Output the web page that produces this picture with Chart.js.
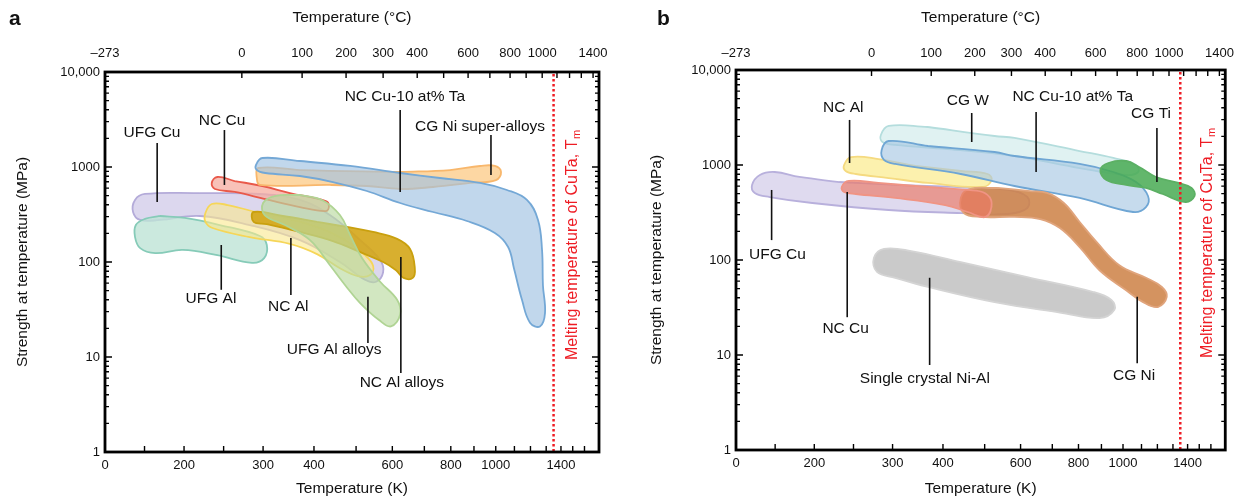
<!DOCTYPE html>
<html lang="en">
<head>
<meta charset="UTF-8">
<title>Strength at temperature</title>
<script src="https://cdn.jsdelivr.net/npm/chart.js@4.4.0/dist/chart.umd.min.js"></script>
<style>
  body { margin: 0; background: #fff; }
  canvas { position: absolute; top: 0; }
  #panelA { left: 0; }
  #panelB { left: 621px; }
</style>
</head>
<body>
<canvas id="panelA" width="621" height="498"></canvas>
<canvas id="panelB" width="622" height="498"></canvas>
<script>
// ---- axes ----
var kTicks = [0, 200, 300, 400, 600, 800, 1000, 1400];          // bottom, K
var cTicks = [-273, 0, 100, 200, 300, 400, 600, 800, 1000, 1400]; // top, deg C
var strengthTicks = [1, 10, 100, 1000, 10000];                  // MPa
var meltK = 1350;

// ---- panel a bands, outline points [K, MPa] ----
var aUfgCu = [[220,532],[296,520],[369,450],[436,312],[511,170],[565,105],[573,78],[554,62],[524,65],[459,100],[369,170],[283,245],[220,305],[139,277],[89,277],[71,336],[76,450],[101,520]];
var aUfgAl = [[139,305],[201,291],[245,245],[296,188],[307,151],[302,110],[286,98],[242,118],[197,134],[127,124],[89,140],[76,183],[78,245],[101,284]];
var aNcCu = [[264,712],[299,631],[350,532],[427,438],[434,388],[427,344],[369,379],[304,460],[264,546],[239,587],[235,679],[242,785]];
var aNiSuper = [[623,886],[797,929],[928,1025],[996,1025],[1027,886],[1001,729],[882,679],[733,616],[623,587],[529,631],[436,647],[296,647],[292,766],[294,976],[369,929]];
var aCuTa = [[369,1156],[484,1025],[623,865],[759,766],[928,679],[1057,573],[1178,450],[1247,277],[1272,134],[1278,57],[1292,29],[1259,21],[1197,23],[1147,40],[1097,86],[1063,144],[996,202],[868,270],[733,336],[623,418],[529,559],[443,695],[369,804],[304,865],[292,929],[291,1050],[299,1244]];
var aNcAl = [[290,336],[350,284],[414,228],[471,170],[524,118],[546,91],[538,73],[505,71],[459,86],[407,121],[350,155],[283,183],[236,228],[227,264],[227,328],[235,408],[255,398]];
var aNcAlAlloys = [[407,264],[475,234],[546,207],[614,175],[652,137],[666,86],[660,68],[633,68],[611,82],[573,100],[511,127],[443,166],[369,207],[307,251],[288,264],[288,336],[337,305]];
var aUfgAlAlloys = [[369,508],[418,450],[459,312],[484,192],[516,110],[565,62],[614,40],[623,28],[596,21],[562,24.5],[511,37],[471,57],[436,93],[391,170],[341,245],[303,312],[300,418],[322,495]];

var aLabels = ['UFG Cu', 'NC Cu', 'UFG Al', 'NC Al', 'UFG Al alloys', 'NC Al alloys', 'NC Cu-10 at% Ta', 'CG Ni super-alloys'];
var aLabelAt = [[119,2280],[248,3050],[234,41],[347,33.6],[446,11.9],[628,5.3],[637,5460],[928,2640]];
var aLeaders = [[132,1790,428],[251,2450,647],[247,151,51],[352,179,45],[532,43,14],[625,113,6.8],[623,3981,546],[978,2172,824]];

// ---- panel b bands ----
var bNiAl = [[441,95],[620,66],[864,46],[946,38],[960,30],[891,24.5],[729,28],[527,36],[367,52],[305,65],[280,75],[276,105],[289,131],[335,124]];
var bUfgCu = [[232,662],[311,616],[434,587],[562,546],[620,460],[620,353],[562,305],[441,312],[295,336],[195,398],[86,460],[48,508],[41,616],[61,785],[99,844],[162,748]];
var bCgW = [[367,2512],[527,2020],[582,1925],[805,1403],[955,1185],[1067,1000],[1079,844],[1016,785],[805,929],[582,1244],[411,1473],[305,1625],[287,1746],[285,2070],[295,2575]];
var bNcAl = [[343,976],[441,865],[508,804],[519,695],[495,587],[367,647],[295,729],[253,804],[240,865],[238,1000],[247,1213],[282,1156]];
var bCuTa = [[367,1585],[527,1371],[582,1244],[805,1025],[955,844],[1067,662],[1141,472],[1128,361],[1052,320],[805,450],[582,601],[441,804],[305,1025],[289,1130],[286,1438],[295,1790]];
var bCgNi = [[535,573],[628,532],[680,508],[744,398],[805,251],[877,155],[983,88],[1128,65],[1228,52],[1259,41],[1203,32],[1110,36],[1016,48],[891,78],[805,137],[729,217],[658,270],[582,284],[489,284],[448,312],[441,450],[461,559]];
var bNcCu = [[282,647],[367,587],[457,546],[500,508],[519,398],[503,284],[457,320],[405,379],[305,450],[253,495],[238,520],[235,587],[244,679]];
var bCgTi = [[1097,929],[1191,748],[1339,647],[1434,573],[1460,472],[1386,408],[1234,495],[1128,573],[1016,616],[923,695],[895,886],[932,1050],[1016,1102]];

var bLabels = ['NC Al', 'CG W', 'NC Cu-10 at% Ta', 'CG Ti', 'UFG Cu', 'NC Cu', 'Single crystal Ni-Al', 'CG Ni'];
var bLabelAt = [[237,3980],[457,4720],[778,5200],[1160,3440],[106,113],[240,18.8],[361,5.6],[1057,6.0]];
var bLeaders = [[245,2980,1050],[466,3525,1746],[646,3610,844],[1197,2450,662],[91,546,162],[242,520,25],[370,65,7.85],[1073,41,8.2]];

// ---- look ----
var FONT = '"Liberation Sans", Arial, Helvetica, sans-serif';
Chart.defaults.font.family = FONT;
Chart.defaults.color = '#111';

// the temperature axis of the figure is hand-drawn: K -> fraction of width
var warpK = [0, 200, 273, 300, 373, 473, 573, 673, 800, 873, 1000, 1073, 1273, 1400, 1673, 1750];
var warpF = [0, .160, .277, .320, .399, .488, .563, .632, .700, .735, .791, .820, .885, .923, .988, 1];

function lerpTable(v, xs, ys) {
  if (v <= xs[0]) return ys[0];
  for (var i = 1; i < xs.length; i++) {
    if (v <= xs[i]) return ys[i - 1] + (v - xs[i - 1]) / (xs[i] - xs[i - 1]) * (ys[i] - ys[i - 1]);
  }
  return ys[ys.length - 1];
}

class WarpScale extends Chart.LinearScale {
  getPixelForValue(v) { return this.getPixelForDecimal(lerpTable(v, warpK, warpF)); }
  getValueForPixel(p) { return lerpTable(this.getDecimalForPixel(p), warpF, warpK); }
}
WarpScale.id = 'warp';
Chart.register(WarpScale);

function ring(pts) {
  var out = pts.map(function (p) { return { x: p[0], y: p[1] }; });
  out.push({ x: pts[0][0], y: pts[0][1] });
  return out;
}

function overlay(p) {
  return {
    id: 'overlay',
    afterDraw: function (chart) {
      var ctx = chart.ctx, a = chart.chartArea, xs = chart.scales.x, ys = chart.scales.y;
      ctx.save();

      // leader lines + labels
      ctx.strokeStyle = '#111';
      ctx.lineWidth = 1.6;
      p.leaders.forEach(function (l) {
        var x = xs.getPixelForValue(l[0]);
        ctx.beginPath();
        ctx.moveTo(x, ys.getPixelForValue(l[1]));
        ctx.lineTo(x, ys.getPixelForValue(l[2]));
        ctx.stroke();
      });
      ctx.fillStyle = '#111';
      ctx.font = '15.5px ' + FONT;
      ctx.textAlign = 'center';
      ctx.textBaseline = 'middle';
      p.labels.forEach(function (t, i) {
        ctx.fillText(t, xs.getPixelForValue(p.labelAt[i][0]), ys.getPixelForValue(p.labelAt[i][1]));
      });

      // melting temperature
      var xm = xs.getPixelForValue(meltK);
      ctx.strokeStyle = '#ee1c24';
      ctx.lineWidth = 2.5;
      ctx.setLineDash([2.5, 2.5]);
      ctx.beginPath();
      ctx.moveTo(xm, a.top + 2);
      ctx.lineTo(xm, a.bottom);
      ctx.stroke();
      ctx.setLineDash([]);

      ctx.save();
      ctx.translate(xs.getPixelForValue(p.tmTextK), ys.getPixelForValue(150));
      ctx.rotate(-Math.PI / 2);
      ctx.fillStyle = '#ee1c24';
      ctx.textAlign = 'left';
      ctx.textBaseline = 'alphabetic';
      var main = 'Melting temperature of CuTa, T';
      ctx.font = '16px ' + FONT;
      var w1 = ctx.measureText(main).width;
      ctx.font = '11px ' + FONT;
      var w2 = ctx.measureText('m').width;
      var x0 = -(w1 + w2) / 2;
      ctx.font = '16px ' + FONT;
      ctx.fillText(main, x0, 6);
      ctx.font = '11px ' + FONT;
      ctx.fillText('m', x0 + w1 + 0.5, 9);
      ctx.restore();

      // frame
      ctx.strokeStyle = '#000';
      ctx.lineWidth = 2.8;
      ctx.strokeRect(a.left, a.top, a.right - a.left, a.bottom - a.top);

      // inward ticks
      ctx.lineWidth = 1.4;
      ctx.beginPath();
      [1, 10, 100, 1000].forEach(function (d) {
        for (var m = 1; m <= 9; m++) {
          if (d * m === 1) continue;
          var y = ys.getPixelForValue(d * m), len = m === 1 ? 7 : 4;
          ctx.moveTo(a.left, y); ctx.lineTo(a.left + len, y);
          ctx.moveTo(a.right, y); ctx.lineTo(a.right - len, y);
        }
      });
      [100, 200, 250, 300, 400, 500, 600, 700, 800, 900, 1000, 1100, 1200, 1300, 1400, 1500, 1600].forEach(function (k) {
        var x = xs.getPixelForValue(k);
        ctx.moveTo(x, a.bottom); ctx.lineTo(x, a.bottom - 6);
      });
      for (var c = 0; c <= 1400; c += 100) {
        var x = xs.getPixelForValue(c + 273);
        ctx.moveTo(x, a.top); ctx.lineTo(x, a.top + 6);
      }
      ctx.stroke();

      // titles
      var cx = (a.left + a.right) / 2;
      ctx.fillStyle = '#111';
      ctx.textAlign = 'center';
      ctx.textBaseline = 'middle';
      ctx.font = '15.5px ' + FONT;
      ctx.fillText('Temperature (\u00B0C)', cx, 18);
      ctx.fillText('Temperature (K)', cx, 489);
      ctx.save();
      ctx.translate(p.yTitleX, (a.top + a.bottom) / 2);
      ctx.rotate(-Math.PI / 2);
      ctx.fillText('Strength at temperature (MPa)', 0, 0);
      ctx.restore();
      ctx.font = 'bold 21px ' + FONT;
      ctx.textAlign = 'left';
      ctx.fillText(p.letter, p.letterX, 19);

      ctx.restore();
    }
  };
}

function makePanel(id, p) {
  var n = p.bands.length;
  var datasets = p.bands.map(function (b, i) {
    return {
      data: ring(b),
      fill: 'shape',
      backgroundColor: p.fills[i],
      borderColor: p.lines[i],
      borderWidth: 1.8,
      tension: 0.4,
      pointRadius: 0,
      order: n - i
    };
  });
  var tickFont = { family: FONT, size: 13 };
  new Chart(document.getElementById(id), {
    type: 'line',
    data: { datasets: datasets },
    options: {
      responsive: false,
      animation: false,
      devicePixelRatio: 1,
      layout: { padding: { left: 0, right: p.padRight, top: 0, bottom: 0 } },
      plugins: { legend: { display: false }, tooltip: { enabled: false } },
      scales: {
        x: {
          type: 'warp', position: 'bottom', min: 0, max: 1750,
          grid: { display: false, drawTicks: false }, border: { display: false },
          afterBuildTicks: function (s) { s.ticks = kTicks.map(function (v) { return { value: v }; }); },
          afterFit: function (s) { s.height = p.bottomH; },
          ticks: { autoSkip: false, maxRotation: 0, padding: 6, font: tickFont, color: '#111',
                   callback: function (v) { return String(v); } }
        },
        x2: {
          type: 'warp', position: 'top', min: 0, max: 1750,
          grid: { display: false, drawTicks: false }, border: { display: false },
          afterBuildTicks: function (s) { s.ticks = cTicks.map(function (c) { return { value: c + 273 }; }); },
          afterFit: function (s) { s.height = p.topH; },
          ticks: { autoSkip: false, maxRotation: 0, padding: p.topPad, font: tickFont, color: '#111',
                   callback: function (v) { var c = Math.round(v - 273); return c === -273 ? '\u2013273' : String(c); } }
        },
        y: {
          type: 'logarithmic', min: 1, max: 10000,
          grid: { display: false, drawTicks: false }, border: { display: false },
          afterBuildTicks: function (s) { s.ticks = strengthTicks.map(function (v) { return { value: v }; }); },
          afterFit: function (s) { s.width = p.leftW; },
          ticks: { autoSkip: false, padding: 5, font: tickFont, color: '#111',
                   callback: function (v) { return v === 10000 ? '10,000' : String(v); } }
        }
      }
    },
    plugins: [overlay(p)]
  });
}

makePanel('panelA', {
  bands: [aUfgCu, aUfgAl, aNcCu, aNiSuper, aCuTa, aNcAl, aNcAlAlloys, aUfgAlAlloys],
  fills: ['rgba(208,202,232,0.75)', 'rgba(190,228,214,0.8)', 'rgba(245,172,160,0.75)', 'rgba(253,205,140,0.8)',
          'rgba(160,194,226,0.65)', 'rgba(250,232,140,0.6)', 'rgba(212,166,24,0.9)', 'rgba(186,218,160,0.65)'],
  lines: ['#b4abd9', '#86cbb8', '#e9594a', '#f8b76c', '#74a8d6', '#f6d658', '#c9a00e', '#b0d494'],
  labels: aLabels, labelAt: aLabelAt, leaders: aLeaders,
  tmTextK: 1485, padRight: 22, leftW: 105, topH: 72, bottomH: 46, topPad: 11,
  yTitleX: 23, letter: 'a', letterX: 9
});

makePanel('panelB', {
  bands: [bNiAl, bUfgCu, bCgW, bNcAl, bCuTa, bCgNi, bNcCu, bCgTi],
  fills: ['rgba(196,196,196,0.9)', 'rgba(212,206,234,0.75)', 'rgba(214,237,237,0.75)', 'rgba(252,238,160,0.85)',
          'rgba(168,200,228,0.65)', 'rgba(204,128,68,0.85)', 'rgba(236,120,100,0.65)', 'rgba(72,170,82,0.85)'],
  lines: ['#d4d4d4', '#b8b0dc', '#b4dddd', '#f5da80', '#6fa6d4', '#e0a47c', '#f09484', '#5cb064'],
  labels: bLabels, labelAt: bLabelAt, leaders: bLeaders,
  tmTextK: 1562, padRight: 12, leftW: 115, topH: 70, bottomH: 48, topPad: 9,
  yTitleX: 36, letter: 'b', letterX: 36
});
</script>
</body>
</html>
